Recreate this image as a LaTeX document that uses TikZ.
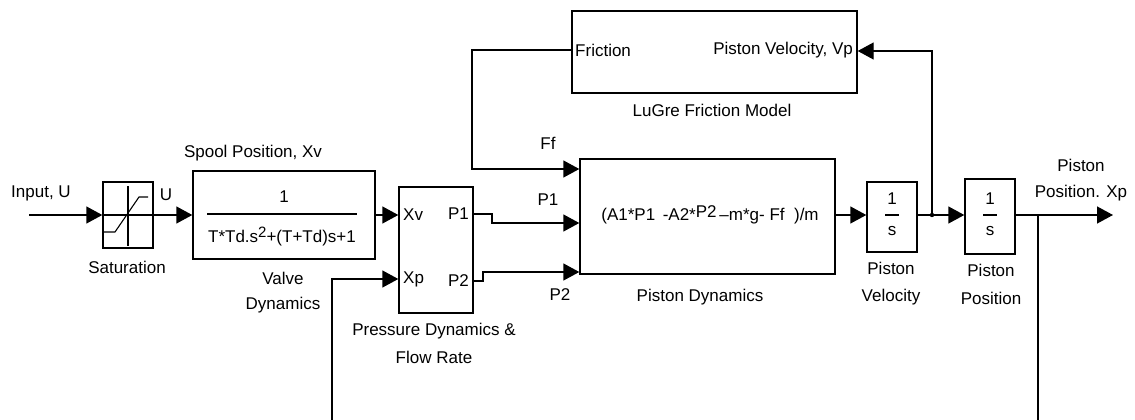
\documentclass[tikz,border=0pt]{standalone}
\usepackage{fontspec}
\setmainfont{Liberation Sans}
\usetikzlibrary{arrows.meta,calc}
\begin{document}
\begin{tikzpicture}[x=1pt,y=-1pt,
  every node/.style={font=\fontsize{17}{20}\selectfont, inner sep=0pt},
  blk/.style={draw, line width=1.4pt, rectangle},
  wire/.style={line width=1.4pt},
  arr/.style={line width=1.4pt, -{Triangle[length=16pt,width=17pt]}},
  lbl/.style={align=center}
]
\useasboundingbox (0,0) rectangle (1135,420);
\clip (0,0) rectangle (1135,420);

% blocks
\node[blk, minimum width=50pt, minimum height=66pt] (sat) at (128,215) {};
\node[blk, minimum width=182pt, minimum height=88pt] (valve) at (284,215) {};
\node[blk, minimum width=74pt, minimum height=126pt] (press) at (436,250) {};
\node[blk, minimum width=255pt, minimum height=115pt] (pdyn) at (707.5,216.5) {};
\node[blk, minimum width=285pt, minimum height=82pt] (lugre) at (714.5,52) {};
\node[blk, minimum width=50pt, minimum height=70pt] (vel) at (892,217) {};
\node[blk, minimum width=50pt, minimum height=75pt] (pos) at (990,216.5) {};

% saturation icon
\draw[line width=1.1pt] (128,186) -- (128,246);
\draw[line width=1.1pt] (sat.west |- 0,215) -- (sat.east |- 0,215);
\draw[line width=1.1pt] (104,232) -- (115,232) -- (139,197) -- (148,197);

% valve transfer function
\node (vnum) at (284,197) {1};
\draw[line width=1.2pt] (207,214) -- (357,214);
\node (vden) at (282,237) {T*Td.s\raisebox{5pt}{\fontsize{15}{15}\selectfont 2}+(T+Td)s+1};

% pressure block ports
\node[anchor=west] (pxv) at (403,215) {Xv};
\node[anchor=west] (pxp) at (403,279) {Xp};
\node[anchor=east] (pp1) at (469,214) {P1};
\node[anchor=east] (pp2) at (469,281) {P2};

% piston dynamics expression
\node (expr) at (710,215) {(A1*P1\ \,-A2*\raisebox{3pt}{P2}\,--m*g- Ff\ \ )/m};

% integrators
\node (vn) at (892,199) {1};
\draw[line width=1.1pt] (885,215) -- (899,215);
\node (vd) at (892,231) {s};
\node (pn) at (990,199) {1};
\draw[line width=1.1pt] (983,215) -- (997,215);
\node (pd) at (990,231) {s};

% LuGre ports
\node[anchor=west] (lfr) at (575,50) {Friction};
\node[anchor=east] (lvp) at (853,50) {Piston Velocity, Vp};

% labels
\node[lbl] (tin) at (41,193) {Input, U};
\node[lbl] (tu) at (166,195) {U};
\node[lbl] (tsat) at (127,267) {Saturation};
\node[lbl] (tspool) at (253,153) {Spool Position, Xv};
\node[lbl] (tvalve) at (283,278) {Valve};
\node[lbl] (tvalve2) at (283,305) {Dynamics};
\node[lbl] (tpress) at (434,331) {Pressure Dynamics \&};
\node[lbl] (tpress2) at (434,357) {Flow Rate};
\node[lbl] (tff) at (548,143) {Ff};
\node[lbl] (tp1) at (548,200) {P1};
\node[lbl] (tp2) at (560,295) {P2};
\node[lbl] (tpdyn) at (700,297) {Piston Dynamics};
\node[lbl] (tlugre) at (712,110) {LuGre Friction Model};
\node[lbl] (tvel1) at (891,268) {Piston};
\node[lbl] (tvel2) at (891,297) {Velocity};
\node[lbl] (tpos1) at (991,270) {Piston};
\node[lbl] (tpos2) at (991,298) {Position};
\node[lbl] (tout1) at (1081,165) {Piston};
\node[lbl] (tout2) at (1081,193) {Position. Xp};

% coordinates
\coordinate (in) at (29,215);
\coordinate (out) at (1113,215);
\coordinate (br1) at (932,215);
\coordinate (br2) at (1038,215);
\coordinate (fbL) at (332,440);
\coordinate (fbR) at (1038,440);

% connectors
\draw[arr] (in) -- (sat.west |- in);
\draw[arr] (sat.east |- in) -- (valve.west |- in);
\draw[arr] (valve.east |- in) -- (press.west |- in);
\draw[wire] (br2) -- (fbR) -- (fbL);
\draw[arr] (fbL) |- (press.west |- 0,279);
\draw[arr] (press.east |- 0,214) -- (492,214) -- (492,223) -- (pdyn.west |- 0,223);
\draw[arr] (press.east |- 0,281) -- (483,281) -- (483,272) -- (pdyn.west |- 0,272);
\draw[arr] (lugre.west |- 0,50) -- (472,50) -- (472,169) -- (pdyn.west |- 0,169);
\draw[arr] (pdyn.east |- in) -- (vel.west |- in);
\draw[arr] (vel.east |- in) -- (pos.west |- in);
\draw[arr] (br1) -- (932,51) -- (lugre.east |- 0,51);
\draw[arr] (pos.east |- in) -- (out);
\fill (br1) circle (2.2pt);
\end{tikzpicture}
\end{document}
